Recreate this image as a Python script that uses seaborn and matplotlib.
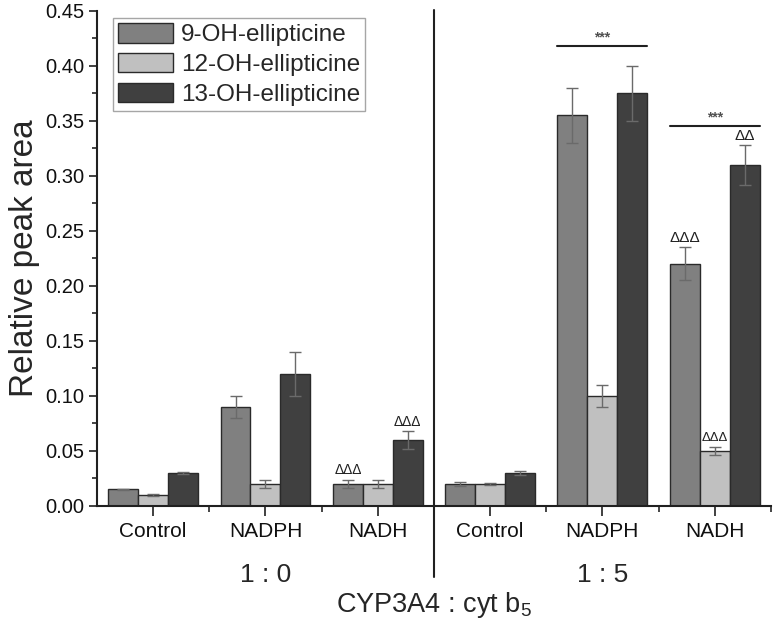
import matplotlib
matplotlib.use('Agg')
import matplotlib.pyplot as plt
import seaborn as sns
import pandas as pd
import numpy as np
from matplotlib.ticker import MultipleLocator, FixedLocator

# Données
groups = ['Control', 'NADPH', 'NADH', 'Control ', 'NADPH ', 'NADH ']
tick_labels = ['Control', 'NADPH', 'NADH', 'Control', 'NADPH', 'NADH']
series = ['9-OH-ellipticine', '12-OH-ellipticine', '13-OH-ellipticine']
oh9 = [0.015, 0.090, 0.020, 0.020, 0.355, 0.220]
oh12 = [0.010, 0.020, 0.020, 0.020, 0.100, 0.050]
oh13 = [0.030, 0.120, 0.060, 0.030, 0.375, 0.310]
err9 = [0.0008, 0.010, 0.004, 0.0015, 0.025, 0.015]
err12 = [0.0005, 0.004, 0.004, 0.0008, 0.010, 0.004]
err13 = [0.0012, 0.020, 0.008, 0.0020, 0.025, 0.018]
colors = ['#808080', '#c0c0c0', '#404040']

# (groupe, série, texte, fontsize)
deltas = [(2, 0, 'ΔΔΔ', 10), (2, 2, 'ΔΔΔ', 10), (5, 0, 'ΔΔΔ', 11),
          (5, 1, 'ΔΔΔ', 9.5), (5, 2, 'ΔΔ', 11)]
stars = [(4, 0.418), (5, 0.345)]

values = [oh9, oh12, oh13]
errors = [err9, err12, err13]
df = pd.DataFrame({
    'group': np.tile(groups, 3),
    'series': np.repeat(series, len(groups)),
    'value': np.concatenate(values),
})

sns.set_style('ticks')
plt.rcParams['font.family'] = ['Liberation Sans', 'DejaVu Sans']
plt.rcParams['mathtext.fontset'] = 'custom'
plt.rcParams['mathtext.rm'] = 'Liberation Sans'
plt.rcParams['mathtext.it'] = 'Liberation Sans'

fig = plt.figure(figsize=(7.74, 6.21), dpi=100)
ax = fig.add_axes([0.1253, 0.1852, 0.8707, 0.7971])

sns.barplot(data=df, x='group', y='value', hue='series', palette=colors,
            errorbar=None, width=0.8, edgecolor='#2a2a2a', linewidth=1.0,
            saturation=1, ax=ax)
bars = [list(c) for c in ax.containers]

# Barres d'erreur à partir des positions des barres
for k, cont in enumerate(bars):
    for i, bar in enumerate(cont):
        xc = bar.get_x() + bar.get_width() / 2
        ax.errorbar(xc, values[k][i], yerr=errors[k][i], fmt='none',
                    ecolor='#6a6a6a', elinewidth=1, capsize=4, capthick=1)

# Annotations Δ
for g, s, txt, fs in deltas:
    bar = bars[s][g]
    xc = bar.get_x() + bar.get_width() / 2
    ax.text(xc, values[s][g] + errors[s][g] + 0.002, txt, ha='center',
            va='bottom', fontsize=fs, color='#202020')

# Lignes de significativité
for g, y in stars:
    x0 = bars[0][g].get_x()
    x1 = bars[2][g].get_x() + bars[2][g].get_width()
    ax.plot([x0, x1], [y, y], color='#202020', lw=1.5)
    ax.text((x0 + x1) / 2, y + 0.002, '***', ha='center', va='bottom',
            fontsize=10, color='#505050', fontweight='bold')

# Séparateur entre 1:0 et 1:5
ax.plot([2.5, 2.5], [-0.0645, 0.451], color='#202020', lw=1.5, clip_on=False)

ax.set_xlim(-0.5, 5.5)
ax.set_ylim(0, 0.45)
ax.yaxis.set_minor_locator(MultipleLocator(0.025))
ax.set_yticks(np.arange(0, 0.451, 0.05))
ax.set_yticklabels([f'{v:.2f}' for v in np.arange(0, 0.451, 0.05)])
ax.set_xticks(range(len(groups)))
ax.set_xticklabels(tick_labels)
ax.xaxis.set_minor_locator(FixedLocator(np.arange(0.5, 5.6, 1.0)))
ax.tick_params(axis='both', which='major', width=1.2,
               color='#202020', labelcolor='#101010')
ax.tick_params(axis='x', which='major', length=7.5, pad=4, labelsize=15)
ax.tick_params(axis='y', which='major', length=6, labelsize=14.5, pad=3)
ax.tick_params(axis='x', which='minor', length=4.5, width=1.2)
ax.tick_params(axis='y', which='minor', length=3.5, width=1.2)

for side in ['top', 'right']:
    ax.spines[side].set_visible(False)
for side in ['left', 'bottom']:
    ax.spines[side].set_linewidth(1.5)
    ax.spines[side].set_color('#202020')

ax.set_xlabel('')
ax.set_ylabel('Relative peak area', fontsize=24, labelpad=4)

ax.text(1, -0.069, '1 : 0', ha='center', va='baseline', fontsize=19)
ax.text(4, -0.069, '1 : 5', ha='center', va='baseline', fontsize=19)
ax.text(2.5, -0.0965, 'CYP3A4 : cyt b$_{5}$', ha='center', va='baseline',
        fontsize=19.5)

leg = ax.legend(loc='upper left', bbox_to_anchor=(0.024, 0.985), fontsize=17.5,
                frameon=True, fancybox=False, edgecolor='#909090',
                handlelength=2.25, handleheight=0.85, borderpad=0.2,
                labelspacing=0.27, handletextpad=0.35, borderaxespad=0)
leg.get_frame().set_linewidth(1.0)

fig.savefig('out.png', dpi=100, facecolor='white')
